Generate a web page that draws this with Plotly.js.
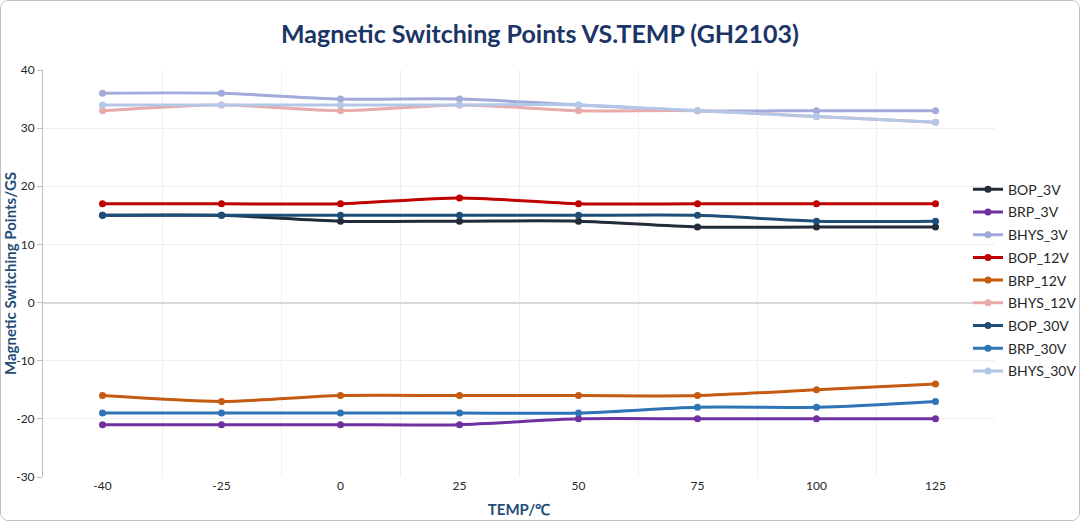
<!DOCTYPE html>
<html>
<head>
<meta charset="utf-8">
<script src="https://cdn.plot.ly/plotly-3.0.1.min.js"></script>
<style>
  html, body { margin: 0; padding: 0; background: #ffffff; }
  #frame {
    width: 1080px; height: 521px; box-sizing: border-box;
    border: 1px solid #bfbfbf; border-radius: 8px; overflow: hidden;
  }
  #chart { width: 1078px; height: 519px; }
</style>
</head>
<body>
<div id="frame"><div id="chart"></div></div>
<script>
const temps = ["-40", "-25", "0", "25", "50", "75", "100", "125"];

const bop3V = [15, 15, 14, 14, 14, 13, 13, 13];
const brp3V = [-21, -21, -21, -21, -20, -20, -20, -20];
const bhys3V = [36, 36, 35, 35, 34, 33, 33, 33];
const bop12V = [17, 17, 17, 18, 17, 17, 17, 17];
const brp12V = [-16, -17, -16, -16, -16, -16, -15, -14];
const bhys12V = [33, 34, 33, 34, 33, 33, 32, 31];
const bop30V = [15, 15, 15, 15, 15, 15, 14, 14];
const brp30V = [-19, -19, -19, -19, -19, -18, -18, -17];
const bhys30V = [34, 34, 34, 34, 34, 33, 32, 31];

const yTickVals = [-30, -20, -10, 0, 10, 20, 30, 40];
const yTickText = ["-30", "-20", "-10", "0", "10", "20", "30", "40"];

const seriesNames = ["BOP_3V", "BRP_3V", "BHYS_3V", "BOP_12V", "BRP_12V", "BHYS_12V", "BOP_30V", "BRP_30V", "BHYS_30V"];
const seriesValues = [bop3V, brp3V, bhys3V, bop12V, brp12V, bhys12V, bop30V, brp30V, bhys30V];
const seriesColors = ["#222b38", "#7030a0", "#a2aadc", "#c00000", "#c55a11", "#e9aaaa", "#1f4e79", "#2e75b6", "#b4c7e7"];

const font = "Lato, 'Open Sans', sans-serif";

const daten = seriesNames.map((name, i) => ({
  x: temps,
  y: seriesValues[i],
  type: "scatter",
  mode: "lines+markers",
  name: name,
  legendgroup: name,
  line: { color: seriesColors[i], width: 3, shape: "spline", smoothing: 0.8 },
  marker: { color: seriesColors[i], size: 7 },
}));

const layout = {
  width: 1078,
  height: 519,
  title: {
    text: "<b>Magnetic Switching Points VS.TEMP (GH2103)</b>",
    font: { family: font, size: 25, color: "#1a3566" },
    x: 0.5, xanchor: "center",
    y: 0.935, yanchor: "middle",
  },
  xaxis: {
    type: "category",
    tickson: "boundaries",
    showgrid: true,
    gridcolor: "#efefef",
    gridwidth: 1,
    ticks: "",
    range: [-0.5, 7.5],
    tickfont: { family: font, size: 12, color: "#262626" },
    title: {
      text: "<b>TEMP/℃</b>",
      font: { family: font, size: 15, color: "#1f4e79" },
      standoff: 12,
    },
    zeroline: false,
    fixedrange: true,
  },
  yaxis: {
    range: [-30, 40],
    tickmode: "array",
    tickvals: yTickVals,
    ticktext: yTickText,
    showgrid: true,
    gridcolor: "#efefef",
    showline: true,
    linecolor: "#bfbfbf",
    linewidth: 1,
    ticks: "outside",
    ticklen: 5,
    tickcolor: "#bfbfbf",
    zeroline: true,
    zerolinecolor: "#d9d9d9",
    zerolinewidth: 2,
    tickfont: { family: font, size: 12, color: "#262626" },
    title: {
      text: "<b>Magnetic Switching Points/GS</b>",
      font: { family: font, size: 15, color: "#1f4e79" },
      standoff: 6,
    },
    fixedrange: true,
  },
  legend: {
    xref: "container",
    yref: "container",
    x: 0.897, xanchor: "left",
    y: 0.462, yanchor: "middle",
    font: { family: font, size: 14, color: "#262626" },
    itemwidth: 30,
    traceorder: "grouped",
    tracegroupgap: 1.5,
    bgcolor: "rgba(0,0,0,0)",
  },
  showlegend: true,
  margin: { t: 69, r: 84, b: 43, l: 42, autoexpand: false },
  paper_bgcolor: "#ffffff",
  plot_bgcolor: "#ffffff",
};

Plotly.newPlot("chart", daten, layout, { displayModeBar: false, staticPlot: true });
</script>
</body>
</html>
